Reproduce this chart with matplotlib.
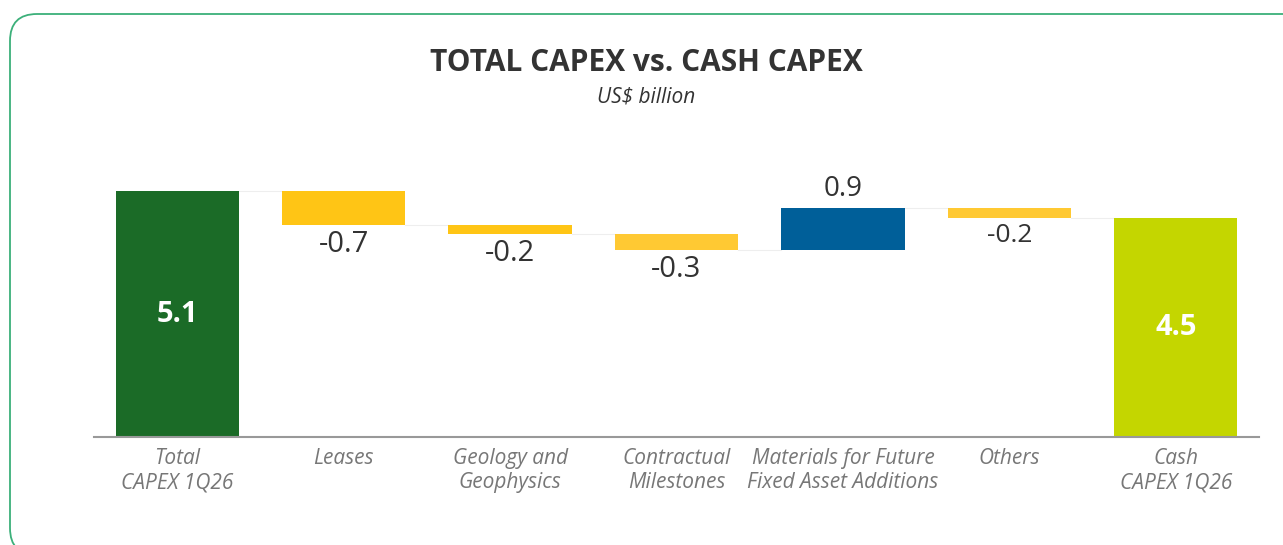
import matplotlib
matplotlib.use("Agg")
import matplotlib.pyplot as plt
from matplotlib.patches import FancyBboxPatch

# data (US$ billion)
categories = ["Total\nCAPEX 1Q26", "Leases", "Geology and\nGeophysics",
              "Contractual\nMilestones", "Materials for Future\nFixed Asset Additions",
              "Others", "Cash\nCAPEX 1Q26"]
values = [5.10, -0.71, -0.19, -0.33, 0.87, -0.20, 4.54]
value_labels = ["5.1", "-0.7", "-0.2", "-0.3", "0.9", "-0.2", "4.5"]
is_total = [True, False, False, False, False, False, True]
colors = ["#1b6b27", "#ffc515", "#ffc515", "#ffc933", "#005f99", "#ffc933", "#c4d600"]

plt.rcParams['font.family'] = ['Open Sans', 'DejaVu Sans']

fig = plt.figure(figsize=(12.83, 5.45), dpi=100)

# rounded green frame (runs off the right and bottom edges)
frame = FancyBboxPatch((10 / 1283, 1 - 555 / 545), 1300 / 1283, 541 / 545,
                       boxstyle="round,pad=0,rounding_size=0.021",
                       transform=fig.transFigure, fill=False,
                       edgecolor="#3cb07a", linewidth=1.3, mutation_aspect=2.35)
fig.add_artist(frame)

ax = fig.add_axes([94 / 1283, 108 / 545, 1165 / 1283, 0.5308])

# waterfall bottoms / tops
bottoms, tops = [], []
running = 0.0
for v, tot in zip(values, is_total):
    if tot:
        bottoms.append(0.0)
        tops.append(v)
        running = v
    else:
        lo, hi = sorted([running, running + v])
        bottoms.append(lo)
        tops.append(hi)
        running += v

x = list(range(len(values)))
heights = [t - b for t, b in zip(tops, bottoms)]
ax.bar(x, heights, bottom=bottoms, width=0.74, color=colors, zorder=2)

# faint connectors
level = values[0]
for i in range(len(values) - 1):
    ax.plot([i + 0.37, i + 1 - 0.37], [level, level], color="#eeeeee", lw=0.8, zorder=1)
    if not is_total[i + 1]:
        level = level + values[i + 1]

# value labels
for i, (v, lab) in enumerate(zip(values, value_labels)):
    if is_total[i]:
        ax.text(i, v / 2, lab, ha="center", va="center", color="white",
                fontsize=21, fontweight="bold")
    elif v < 0:
        ax.text(i, bottoms[i] - 0.1, lab, ha="center", va="top", color="#333333",
                fontsize=19 if i == 5 else 21)
    else:
        ax.text(i, tops[i] + 0.12, lab, ha="center", va="bottom", color="#333333",
                fontsize=20)

ax.set_xlim(-0.5, 6.5)
ax.set_ylim(0, 6)
ax.set_xticks(x)
ax.set_xticklabels(categories, fontsize=15, style="italic", color="#777777",
                   linespacing=1.2)
ax.tick_params(axis="x", length=0, pad=8)
ax.set_yticks([])
for s in ["top", "right", "left"]:
    ax.spines[s].set_visible(False)
ax.spines["bottom"].set_color("#999999")
ax.spines["bottom"].set_linewidth(1.5)

fig.text(646 / 1283, 1 - 63 / 545, "TOTAL CAPEX vs. CASH CAPEX", ha="center", va="center",
         fontsize=21.5, fontweight="bold", color="#333333")
fig.text(646 / 1283, 1 - 97 / 545, "US$ billion", ha="center", va="center",
         fontsize=15, style="italic", color="#333333")

fig.savefig("out.png", dpi=100)
